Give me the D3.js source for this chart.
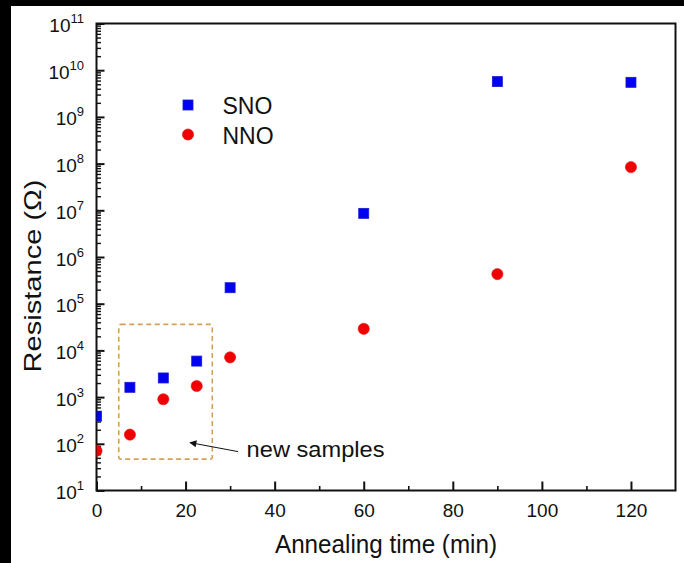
<!DOCTYPE html>
<html>
<head>
<meta charset="utf-8">
<script src="https://cdn.jsdelivr.net/npm/d3@7"></script>
<style>
  html, body { margin: 0; padding: 0; background: #000; }
  svg { display: block; }
  text { font-family: "Liberation Sans", Arial, sans-serif; fill: #111; }
</style>
</head>
<body>
<svg id="chart" width="684" height="563"></svg>
<script>
// Annealing time (min) for each sample
const times = [0, 7.5, 15, 22.5, 30, 60, 90, 120];
// Resistance (Ohm) of the two nickelate films
const snoValues = [390, 1620, 2570, 5900, 2.2e5, 8.6e6, 5.7e9, 5.5e9];
const nnoValues = [71, 157, 900, 1730, 7100, 2.9e4, 4.3e5, 8.4e7];
const seriesNames = ["SNO", "NNO"];
// Axis ticks
const xTicks = [0, 20, 40, 60, 80, 100, 120];
const xMinorTicks = [10, 30, 50, 70, 90, 110];
const yExponents = [1, 2, 3, 4, 5, 6, 7, 8, 9, 10, 11];
// Highlight box around the new samples (data coordinates)
const boxTimes = [5, 26];
const boxRes = [47, 3.6e4];
const noteText = "new samples";
const arrowFrom = [31.8, 68];
const arrowTo = [21.0, 106];
const notePos = [33.7, 53];

const svg = d3.select("#chart");
const W = 684, H = 563;

// white canvas with thin dark border on top and left
svg.append("rect").attr("x", 0).attr("y", 0).attr("width", W).attr("height", H).attr("fill", "#000");
svg.append("rect").attr("x", 11).attr("y", 6).attr("width", W - 11).attr("height", H - 6).attr("fill", "#fff");

const plot = { left: 96.5, right: 675.5, top: 23.5, bottom: 490.5 };

const x = d3.scaleLinear().domain([0, 130]).range([plot.left, plot.right]);
const y = d3.scaleLog().domain([10, 1e11]).range([plot.bottom, plot.top]);

// clip for markers
svg.append("defs").append("clipPath").attr("id", "plotClip")
  .append("rect").attr("x", plot.left).attr("y", plot.top)
  .attr("width", plot.right - plot.left).attr("height", plot.bottom - plot.top);

// arrow head marker
svg.select("defs").append("marker")
  .attr("id", "arrowHead").attr("viewBox", "0 0 10 10")
  .attr("refX", 9).attr("refY", 5)
  .attr("markerWidth", 10).attr("markerHeight", 7)
  .attr("markerUnits", "userSpaceOnUse")
  .attr("orient", "auto")
  .append("path").attr("d", "M0,0 L10,5 L0,10 z").attr("fill", "#111");

// minor y ticks (2..9 x 10^k)
const yMinor = [];
for (let e = 1; e < 11; e++) for (let m = 2; m <= 9; m++) yMinor.push(m * Math.pow(10, e));

const yMinorAxis = d3.axisLeft(y).tickValues(yMinor).tickSize(-4.5).tickFormat("");
svg.append("g").attr("transform", `translate(${plot.left},0)`).call(yMinorAxis)
  .call(g => g.select(".domain").remove())
  .call(g => g.selectAll("line").attr("stroke", "#111").attr("stroke-width", 1.4));

const yMajorAxis = d3.axisLeft(y).tickValues(yExponents.map(e => Math.pow(10, e)))
  .tickSize(-8).tickPadding(12.5).tickFormat(() => "");
const yg = svg.append("g").attr("transform", `translate(${plot.left},0)`).call(yMajorAxis);
yg.select(".domain").remove();
yg.selectAll("line").attr("stroke", "#111").attr("stroke-width", 2);
yg.selectAll(".tick text").each(function (d) {
  const t = d3.select(this)
    .attr("font-size", 19).attr("dy", null).attr("y", 8)
    .attr("text-anchor", "end").attr("fill", "#111");
  t.text(null);
  t.append("tspan").text("10");
  t.append("tspan").attr("dy", -9).attr("font-size", 13).text(String(Math.round(Math.log10(d))));
});

const xMinorAxis = d3.axisBottom(x).tickValues(xMinorTicks).tickSize(-4.5).tickFormat("");
svg.append("g").attr("transform", `translate(0,${plot.bottom})`).call(xMinorAxis)
  .call(g => g.select(".domain").remove())
  .call(g => g.selectAll("line").attr("stroke", "#111").attr("stroke-width", 1.6));

const xMajorAxis = d3.axisBottom(x).tickValues(xTicks).tickSize(-9).tickPadding(0).tickFormat(d3.format("d"));
const xg = svg.append("g").attr("transform", `translate(0,${plot.bottom})`).call(xMajorAxis);
xg.select(".domain").remove();
xg.selectAll("line").attr("stroke", "#111").attr("stroke-width", 2);
xg.selectAll(".tick text").attr("font-size", 19).attr("dy", null).attr("y", 26).attr("fill", "#111");

// plot frame
svg.append("rect")
  .attr("x", plot.left).attr("y", plot.top)
  .attr("width", plot.right - plot.left).attr("height", plot.bottom - plot.top)
  .attr("fill", "none").attr("stroke", "#111").attr("stroke-width", 2);

// highlight box
svg.append("rect")
  .attr("x", x(boxTimes[0])).attr("y", y(boxRes[1]))
  .attr("width", x(boxTimes[1]) - x(boxTimes[0]))
  .attr("height", y(boxRes[0]) - y(boxRes[1]))
  .attr("rx", 2)
  .attr("fill", "none").attr("stroke", "#d3a055").attr("stroke-width", 1.6)
  .attr("stroke-dasharray", "5,3.5");

// annotation arrow and label
svg.append("line")
  .attr("x1", x(arrowFrom[0])).attr("y1", y(arrowFrom[1]))
  .attr("x2", x(arrowTo[0])).attr("y2", y(arrowTo[1]))
  .attr("stroke", "#111").attr("stroke-width", 1)
  .attr("marker-end", "url(#arrowHead)");
svg.append("text")
  .attr("x", x(notePos[0])).attr("y", y(notePos[1]))
  .attr("font-size", 22.5).attr("textLength", 138).attr("lengthAdjust", "spacingAndGlyphs")
  .text(noteText);

// data markers
const markers = svg.append("g").attr("clip-path", "url(#plotClip)");
const sq = 10;
markers.selectAll("rect.sno").data(times.map((t, i) => [t, snoValues[i]]))
  .join("rect").attr("class", "sno")
  .attr("x", d => x(d[0]) - sq / 2).attr("y", d => y(d[1]) - sq / 2)
  .attr("width", sq).attr("height", sq)
  .attr("fill", "#0000f2").attr("stroke", "#1a1ad0").attr("stroke-width", 0.8);
markers.selectAll("circle.nno").data(times.map((t, i) => [t, nnoValues[i]]))
  .join("circle").attr("class", "nno")
  .attr("cx", d => x(d[0])).attr("cy", d => y(d[1])).attr("r", 5.6)
  .attr("fill", "#f00000").attr("stroke", "#e81010").attr("stroke-width", 0.6);

// legend
const legend = svg.append("g");
legend.append("rect").attr("x", 188 - sq / 2).attr("y", 105 - sq / 2).attr("width", sq).attr("height", sq)
  .attr("fill", "#0000f2").attr("stroke", "#1a1ad0").attr("stroke-width", 0.8);
legend.append("circle").attr("cx", 188).attr("cy", 134.5).attr("r", 5.6)
  .attr("fill", "#f00000").attr("stroke", "#e81010").attr("stroke-width", 0.6);
legend.append("text").attr("x", 222.5).attr("y", 114.3).attr("font-size", 23).text(seriesNames[0]);
legend.append("text").attr("x", 222.5).attr("y", 144).attr("font-size", 23).text(seriesNames[1]);

// axis titles
svg.append("text")
  .attr("x", 275).attr("y", 553.3)
  .attr("font-size", 25).attr("textLength", 222).attr("lengthAdjust", "spacingAndGlyphs")
  .text("Annealing time (min)");
svg.append("text")
  .attr("transform", "translate(40.7,276) rotate(-90)")
  .attr("text-anchor", "middle")
  .attr("font-size", 24).attr("textLength", 193).attr("lengthAdjust", "spacingAndGlyphs")
  .text("Resistance (Ω)");
</script>
</body>
</html>
